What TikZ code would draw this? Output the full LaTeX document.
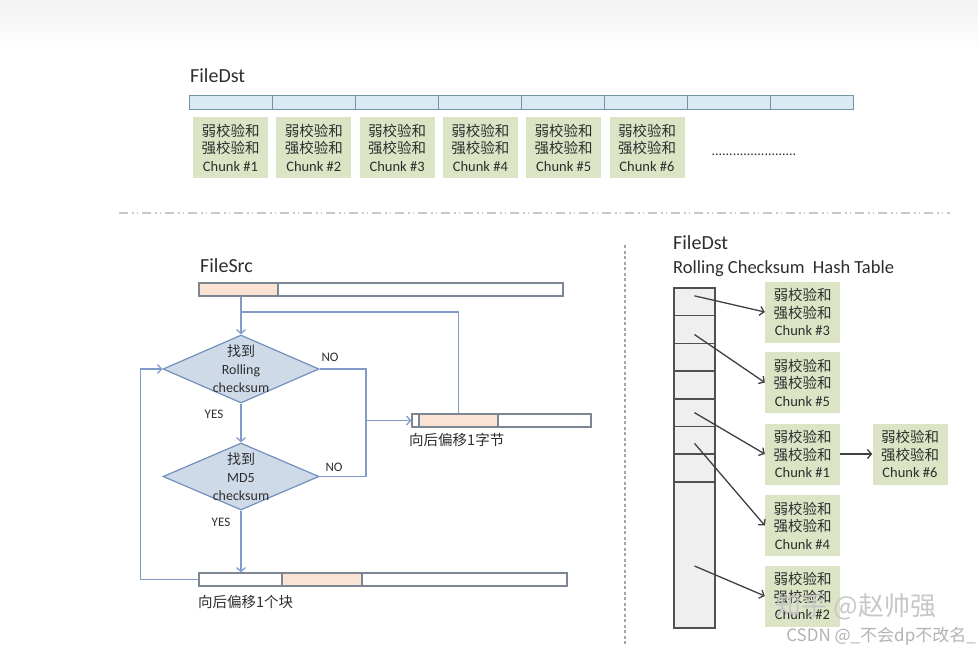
\documentclass[tikz,border=0pt]{standalone}
\usepackage{fontspec}
\setmainfont{Carlito}
\newfontfamily\cjk{Noto Sans CJK SC}
\usetikzlibrary{shapes.geometric,arrows.meta}
\definecolor{txt}{HTML}{2E2E2E}
\definecolor{dstfill}{HTML}{DAEAF3}
\definecolor{dstline}{HTML}{7393A6}
\definecolor{chunkfill}{HTML}{DCE4C6}
\definecolor{dmfill}{HTML}{CFDAE9}
\definecolor{dmline}{HTML}{7290BC}
\definecolor{flowline}{HTML}{819CC9}
\definecolor{barline}{HTML}{7D8793}
\definecolor{hlfill}{HTML}{FBE3D3}
\definecolor{hfill}{HTML}{EFEFEF}
\definecolor{hline}{HTML}{505050}
\definecolor{ptrline}{HTML}{404040}
\newcommand\chunktext[1]{{\cjk 弱校验和}\\{\cjk 强校验和}\\Chunk \##1}
\tikzset{
  title/.style={anchor=west,inner sep=0pt,text=txt,font=\fontsize{20}{24}\selectfont},
  dstcell/.style={draw=dstline,line width=1pt,minimum width=83.1pt,minimum height=14pt,inner sep=0pt},
  chunkbox/.style={fill=chunkfill,minimum width=75pt,minimum height=61pt,inner sep=0pt,align=center,text=txt,font=\fontsize{14.5}{17.5}\selectfont},
  decision/.style={diamond,draw=dmline,fill=dmfill,line width=1.2pt,minimum width=156pt,minimum height=68pt,inner sep=0pt},
  dtext/.style={align=center,inner sep=0pt,text=txt,font=\fontsize{14}{18}\selectfont},
  yesno/.style={inner sep=0pt,text=txt,font=\fontsize{13}{15}\selectfont},
  barcell/.style={draw=barline,fill=white,line width=1.2pt,minimum height=13pt,inner sep=0pt},
  barhl/.style={barcell,fill=hlfill},
  movelbl/.style={anchor=west,inner sep=0pt,text=txt,font=\fontsize{14.5}{17}\cjk},
  flow/.style={draw=flowline,line width=1.3pt},
  hcell/.style={draw=hline,line width=1.5pt,minimum width=41pt,inner sep=0pt},
  ptr/.style={draw=ptrline,line width=1.3pt},
  sepline/.style={draw=black!22,line width=2pt,dash pattern=on 9pt off 4pt on 1.5pt off 3pt on 1.5pt off 4pt},
  vsep/.style={draw=black!35,line width=1.2pt,dash pattern=on 3pt off 2.5pt}
}
\begin{document}
\begin{tikzpicture}[x=1pt,y=-1pt,>={Straight Barb[length=4pt,width=9pt]}]
  \useasboundingbox (0,0) rectangle (978,653);
  \shade [top color=black!5,bottom color=white] (0,0) rectangle (978,50);
  % FileDst blocks
  \node [title] (dsttitle) at (190,76) {FileDst};
  \fill [dstfill] (189,95) rectangle (853.8,109);
  \foreach \i in {0,...,7}
    \node [dstcell] (c\i) at ({189+83.1*(\i+0.5)},102) {};
  \foreach \i in {1,...,6}
    \node [chunkbox] (top\i) at ({230.5+83.3*(\i-1)},147.5) {\chunktext{\i}};
  \node [inner sep=0pt,text=txt,font=\fontsize{14}{16}\selectfont] (more) at (754,155) {........................};
  \draw [sepline] (119,213) -- (950,213);
  \draw [vsep] (625,245) -- (625,645);
  % FileSrc flow
  \node [title] (srctitle) at (200,266) {FileSrc};
  \node [barcell,minimum width=364pt] (srcbar) at (381,289.5) {};
  \node [barhl,minimum width=79pt] (srcblk) at (238.5,289.5) {};
  \node [decision] (d1) at (241,369) {};
  \node [dtext] (d1txt) at (d1) {{\cjk 找到}\\Rolling\\checksum};
  \node [decision,minimum height=67pt] (d2) at (241,476.5) {};
  \node [dtext] (d2txt) at (d2) {{\cjk 找到}\\MD5\\checksum};
  \node [barcell,minimum width=179pt] (nxtbyte) at (501.5,420.5) {};
  \node [barhl,minimum width=79pt] (nxtblk) at (458.5,420.5) {};
  \node [movelbl] (bytelbl) at (409,440) {向后偏移1字节};
  \node [barcell,minimum width=368pt] (blkbar) at (383,579.5) {};
  \node [barhl,minimum width=80pt] (blkhl) at (322,579.5) {};
  \node [movelbl] (blklbl) at (198,602) {向后偏移1个块};
  \node [yesno] (no1) at (330,357) {NO};
  \node [yesno] (no2) at (334,467) {NO};
  \node [yesno] (yes1) at (214,414) {YES};
  \node [yesno] (yes2) at (221,522) {YES};
  \coordinate (split) at (241,312);
  \coordinate (nojoin) at (366,420.5);
  \draw [flow,->] (d1.north |- srcbar.south) -- (d1.north);
  \draw [flow] (split) -| (nxtblk.north);
  \draw [flow] (d1.east) -| (nojoin);
  \draw [flow] (d2.east) -| (nojoin);
  \draw [flow,->] (nojoin) -- (nxtbyte.west);
  \draw [flow,->] (d1.south) -- (d2.north);
  \draw [flow,->] (d2.south) -- (d2.south |- blkbar.north);
  \draw [flow,->] (blkbar.west) -- ++(-58,0) |- (d1.west);
  % hash table
  \node [title] (hashtitle) at (673,243) {FileDst};
  \node [title,font=\fontsize{18.5}{22}\selectfont] (hashsub) at (673,269) {Rolling Checksum~ Hash Table};
  \fill [hfill] (674,288) rectangle (715,628);
  \foreach \i in {1,...,7}
    \node [hcell,minimum height=27.7pt] (h\i) at (694.5,{288+27.7*(\i-0.5)}) {};
  \node [hcell,minimum height=146pt] (h8) at (694.5,555) {};
  \node [chunkbox] (k3) at (802.5,312) {\chunktext{3}};
  \node [chunkbox] (k5) at (802.5,382.5) {\chunktext{5}};
  \node [chunkbox] (k1) at (802.5,454) {\chunktext{1}};
  \node [chunkbox] (k6) at (910,454) {\chunktext{6}};
  \node [chunkbox] (k4) at (802.5,525.5) {\chunktext{4}};
  \node [chunkbox] (k2) at (802.5,596) {\chunktext{2}};
  \foreach \c/\k/\s in {1/3/6,2/5/-5,5/1/0,6/4/-3,8/2/-11}
    \draw [ptr,->] ([yshift=\s pt]h\c.center) -- (k\k.west);
  \draw [ptr,->] (k1.east) -- (k6.west);
  % watermarks
  \node [text=black!22,inner sep=0pt,font=\fontsize{26}{28}\cjk] (wm1) at (856,607) {知乎 @赵帅强};
  \node [anchor=east,text=black!30,inner sep=0pt,font=\fontsize{17}{19}\cjk] (wm2) at (976,636) {CSDN @\_不会dp不改名\_};
\end{tikzpicture}
\end{document}
